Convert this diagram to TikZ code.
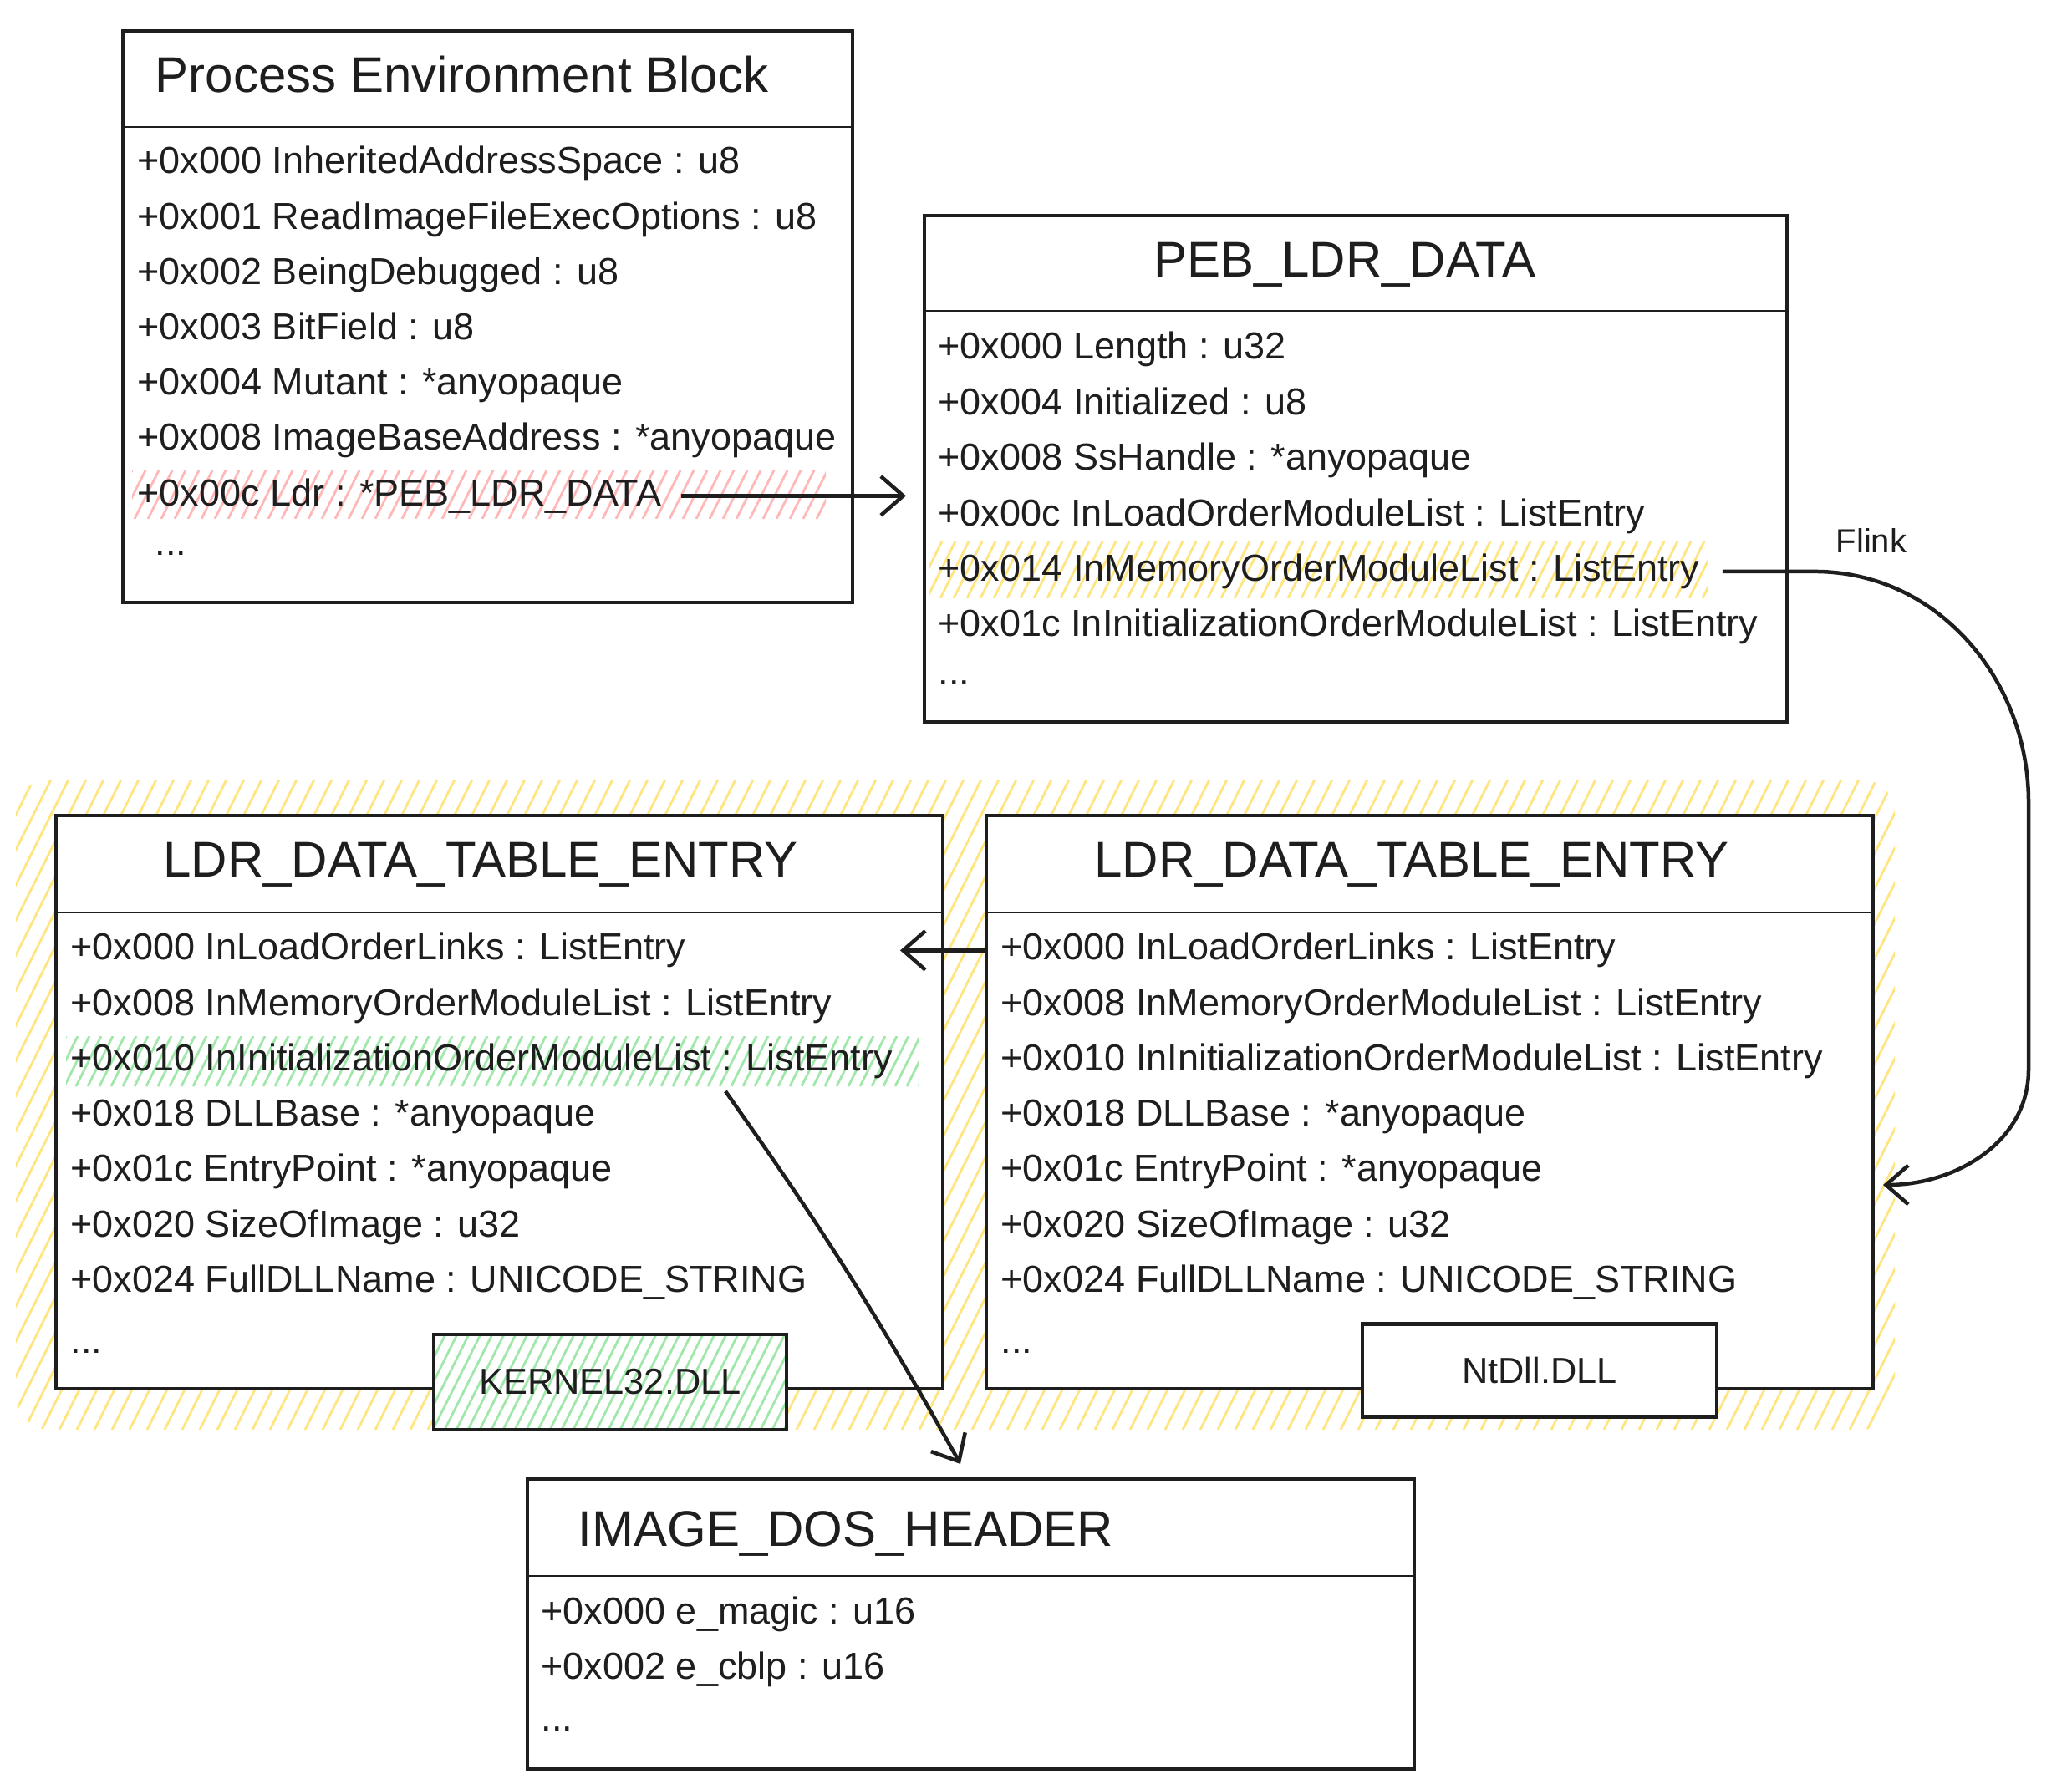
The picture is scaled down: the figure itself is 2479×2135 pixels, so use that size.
\documentclass[tikz,border=0pt]{standalone}
\usepackage{fontspec}
\setmainfont{Liberation Sans}
\usetikzlibrary{arrows.meta}
\definecolor{hyellow}{HTML}{FFE580}
\definecolor{hgreen}{HTML}{9FE8AA}
\definecolor{hred}{HTML}{FFB8B8}
\definecolor{ink}{HTML}{1E1E1E}

% #1 clip options, #2 colour, #3 x1, #4 y1, #5 x2, #6 y2, #7 gap
\newcommand\hatchfill[7][]{%
  \begin{scope}
    \clip[#1] (#3,#4) rectangle (#5,#6);
    \pgfmathsetmacro\hv{(#6)-(#4)}
    \pgfmathsetmacro\hh{0.5*\hv}
    \pgfmathsetmacro\hs{(#3)-\hh}
    \pgfmathtruncatemacro\hn{((#5)-\hs)/(#7)+1}
    \foreach \i in {0,...,\hn}{
      \draw[#2, line width=0.85pt] ({\hs+\i*(#7)},#6) -- ++(\hh,-\hv);
    }
  \end{scope}}

\tikzset{
  box/.style={draw=ink, line width=1.3pt, fill=white, inner sep=0pt},
  divider/.style={draw=ink, line width=0.8pt},
  row/.style={anchor=base west, inner sep=0pt, font=\fontsize{13.5}{16}\selectfont, text=ink},
  ttl/.style={inner sep=0pt, font=\fontsize{18}{22}\selectfont, text=ink},
  tag/.style={inner sep=0pt, font=\fontsize{13}{16}\selectfont, text=ink},
  arr/.style={draw=ink, line width=1.35pt, -{Straight Barb[length=8pt,width=14pt]}},
}

\begin{document}
\begin{tikzpicture}[x=0.3pt,y=-0.3pt]
\useasboundingbox (0,0) rectangle (2479,2135);
\fill[white] (0,0) rectangle (2479,2135);

% yellow group background
\hatchfill[rounded corners=12pt]{hyellow}{19}{933}{2267}{1711}{21}

% ---------- boxes ----------
\node[box, anchor=north west, minimum width=261.9pt, minimum height=205.2pt] (peb) at (145,35) {};
\node[box, anchor=north west, minimum width=309.6pt, minimum height=181.8pt] (pld) at (1104,256) {};
\node[box, anchor=north west, minimum width=318.3pt, minimum height=205.8pt] (ldrL) at (65,974) {};
\node[box, anchor=north west, minimum width=318.3pt, minimum height=205.8pt] (ldrR) at (1178,974) {};
\node[box, anchor=north west, minimum width=318.3pt, minimum height=104.1pt] (dos) at (629,1768) {};

% header dividers
\draw[divider] (145,152) -- (1018,152);
\draw[divider] (1104,372) -- (2136,372);
\draw[divider] (65,1092) -- (1126,1092);
\draw[divider] (1178,1092) -- (2239,1092);
\draw[divider] (629,1886) -- (1690,1886);

% row highlights
\hatchfill{hred}{158}{563}{988}{621}{16}
\hatchfill{hyellow}{1111}{648}{2043}{716}{16}
\hatchfill{hgreen}{79}{1240}{1099}{1300}{14}

% ---------- titles ----------
\node[ttl, anchor=base west] (pebT) at (185,111) {Process Environment Block};
\node[ttl, anchor=base] (pldT) at (1609,332) {PEB\_LDR\_DATA};
\node[ttl, anchor=base] (ldrLT) at (575,1050) {LDR\_DATA\_TABLE\_ENTRY};
\node[ttl, anchor=base] (ldrRT) at (1689,1050) {LDR\_DATA\_TABLE\_ENTRY};
\node[ttl, anchor=base west] (dosT) at (691,1850) {IMAGE\_DOS\_HEADER};

% ---------- rows ----------
\foreach [count=\i from 0] \txt in {
  +0x000 InheritedAddressSpace : u8,
  +0x001 ReadImageFileExecOptions : u8,
  +0x002 BeingDebugged : u8,
  +0x003 BitField : u8,
  +0x004 Mutant : *anyopaque,
  +0x008 ImageBaseAddress : *anyopaque,
  +0x00c Ldr : *PEB\_LDR\_DATA}
  \node[row] (peb\i) at (164,{208+\i*66.2}) {\txt};
\node[row] (pebD) at (185,665) {...};

\foreach [count=\i from 0] \txt in {
  +0x000 Length : u32,
  +0x004 Initialized : u8,
  +0x008 SsHandle : *anyopaque,
  +0x00c InLoadOrderModuleList : ListEntry,
  +0x014 InMemoryOrderModuleList : ListEntry,
  +0x01c InInitializationOrderModuleList : ListEntry}
  \node[row] (pld\i) at (1122,{430+\i*66.4}) {\txt};
\node[row] (pldD) at (1122,820) {...};

\foreach [count=\i from 0] \txt in {
  +0x000 InLoadOrderLinks : ListEntry,
  +0x008 InMemoryOrderModuleList : ListEntry,
  +0x010 InInitializationOrderModuleList : ListEntry,
  +0x018 DLLBase : *anyopaque,
  +0x01c EntryPoint : *anyopaque,
  +0x020 SizeOfImage : u32,
  +0x024 FullDLLName : UNICODE\_STRING}
  {\node[row] (ll\i) at (84,{1149+\i*66.2}) {\txt};
   \node[row] (lr\i) at (1197,{1149+\i*66.2}) {\txt};}
\node[row] (llD) at (84,1619) {...};
\node[row] (lrD) at (1197,1619) {...};

\node[row] (dos0) at (647,1943) {+0x000 e\_magic : u16};
\node[row] (dos1) at (647,2009) {+0x002 e\_cblp : u16};
\node[row] (dosD) at (647,2071) {...};

% ---------- module tags ----------
\fill[white] (519,1597) rectangle (941,1711);
\hatchfill{hgreen}{519}{1597}{941}{1711}{14}
\node[draw=ink, line width=1.3pt, tag, minimum width=126.6pt, minimum height=34.2pt] (k32) at (730,1654) {KERNEL32.DLL};
\node[box, tag, minimum width=127.2pt, minimum height=33.3pt] (ntdll) at (1842,1640) {NtDll.DLL};

% ---------- connectors ----------
\draw[arr] ([xshift=7pt]peb6.east) -- ([xshift=-6pt]pld.west |- peb6.east);

\coordinate (flinkend) at (2253,1418);
\draw[arr] ([xshift=8pt]pld4.east) -- ++(110,0)
  to[out=0,in=90] (2427,960) -- (2427,1280)
  to[out=-90,in=0] (flinkend);
\node[font=\fontsize{12}{14}\selectfont, text=ink, inner sep=0pt] (flink) at (2239,647) {Flink};

\draw[arr] (ldrR.west |- lr0.west) -- ([xshift=-16pt]ldrL.east |- lr0.west);

\coordinate (dllsrc) at (868,1306);
\coordinate (dosx) at (1149,1752);
\draw[arr] (dllsrc) to[bend left=3] (dosx);
\end{tikzpicture}
\end{document}
